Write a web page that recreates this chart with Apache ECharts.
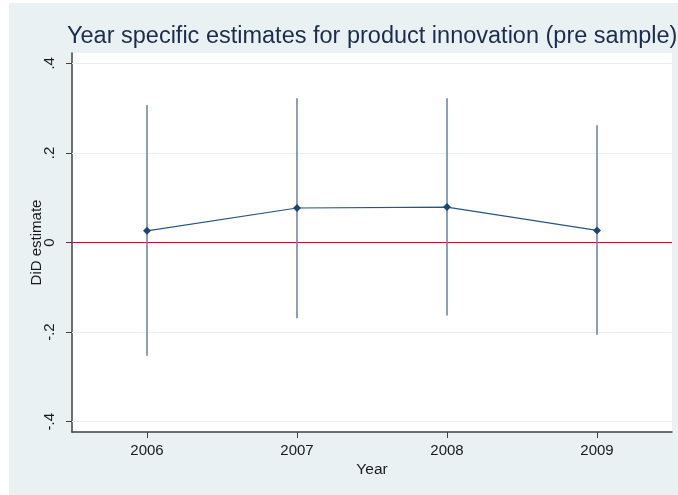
<!DOCTYPE html>
<html>
<head>
<meta charset="utf-8">
<script src="https://cdn.jsdelivr.net/npm/echarts@6/dist/echarts.min.js"></script>
<style>
  html, body { margin: 0; padding: 0; background: #ffffff; }
  #chart { width: 678px; height: 495px; }
</style>
</head>
<body>
<div id="chart"></div>
<script>
// Year-specific DiD estimates with confidence bounds
const years = [2006, 2007, 2008, 2009];
const estimates = [0.026, 0.077, 0.079, 0.027];
const lowerBounds = [-0.253, -0.169, -0.163, -0.206];
const upperBounds = [0.307, 0.322, 0.322, 0.262];
const yTicks = [-0.4, -0.2, 0, 0.2, 0.4];
const yTickLabels = ['-.4', '-.2', '0', '.2', '.4'];

const pointData = years.map((y, i) => [y, estimates[i]]);
const barData = years.map((y, i) => [y, lowerBounds[i], upperBounds[i]]);

const FONT = '"Liberation Sans", Arial, sans-serif';
const chart = echarts.init(document.getElementById('chart'), null, { renderer: 'canvas' });

chart.setOption({
  animation: false,
  backgroundColor: '#ffffff',
  textStyle: { fontFamily: FONT },
  graphic: [{
    type: 'rect',
    z: -10,
    shape: { x: 9, y: 3, width: 669, height: 492 },
    style: { fill: '#e9f1f3' }
  }],
  title: {
    text: 'Year specific estimates for product innovation (pre sample)',
    left: 62,
    top: 20,
    textStyle: { fontSize: 23.5, fontWeight: 'normal', color: '#1c2c4c', fontFamily: FONT }
  },
  grid: {
    left: 72, right: 6, top: 53, bottom: 63,
    show: true, backgroundColor: '#ffffff', borderWidth: 0
  },
  xAxis: {
    type: 'value',
    min: 2005.5, max: 2009.5,
    name: 'Year',
    nameLocation: 'middle',
    nameGap: 30,
    nameMoveOverlap: false,
    nameTextStyle: { fontSize: 15.5, color: '#1a1a1a', fontFamily: FONT },
    axisLine: { show: true, onZero: false, lineStyle: { color: '#404040', width: 1.5 } },
    axisTick: { show: true, customValues: years, length: 6, lineStyle: { color: '#404040' } },
    axisLabel: { customValues: years, fontSize: 15, color: '#1a1a1a', margin: 11, fontFamily: FONT, formatter: v => String(v) },
    splitLine: { show: false }
  },
  yAxis: {
    type: 'value',
    min: -0.423, max: 0.423,
    name: 'DiD estimate',
    nameLocation: 'middle',
    nameGap: 28,
    nameRotate: 90,
    nameMoveOverlap: false,
    nameTextStyle: { fontSize: 15, color: '#1a1a1a', fontFamily: FONT },
    axisLine: { show: true, onZero: false, lineStyle: { color: '#404040', width: 1.5 } },
    axisTick: { show: true, customValues: yTicks, length: 6, lineStyle: { color: '#404040' } },
    axisLabel: {
      customValues: yTicks, rotate: 90, fontSize: 15, color: '#1a1a1a', margin: 15, fontFamily: FONT,
      formatter: v => {
        const i = yTicks.findIndex(t => Math.abs(t - v) < 1e-6);
        return i >= 0 ? yTickLabels[i] : '';
      }
    },
    splitLine: { show: false }
  },
  series: [
    {
      // faint horizontal grid lines at the labelled ticks
      type: 'line',
      data: [],
      silent: true,
      z: 1,
      markLine: {
        symbol: 'none',
        silent: true,
        z: 1,
        label: { show: false },
        lineStyle: { color: '#e6eff1', width: 1, type: 'solid' },
        data: yTicks.filter(t => t !== 0).map(t => ({ yAxis: t }))
      }
    },
    {
      // zero reference line
      type: 'line',
      data: [],
      silent: true,
      z: 3,
      markLine: {
        symbol: 'none',
        silent: true,
        z: 3,
        label: { show: false },
        lineStyle: { color: '#c8102e', width: 1.2, type: 'solid' },
        data: [{ yAxis: 0 }]
      }
    },
    {
      // confidence intervals as vertical spikes
      type: 'custom',
      z: 6,
      data: barData,
      renderItem: (params, api) => {
        const x = api.value(0);
        const lo = api.coord([x, api.value(1)]);
        const hi = api.coord([x, api.value(2)]);
        return {
          type: 'line',
          shape: { x1: lo[0], y1: lo[1], x2: hi[0], y2: hi[1] },
          style: { stroke: '#6e88a3', lineWidth: 1.6 }
        };
      }
    },
    {
      type: 'line',
      z: 7,
      data: pointData,
      symbol: 'diamond',
      symbolSize: 8,
      showSymbol: true,
      itemStyle: { color: '#1a476f' },
      lineStyle: { color: '#2a5580', width: 1.2 }
    }
  ]
});
</script>
</body>
</html>
